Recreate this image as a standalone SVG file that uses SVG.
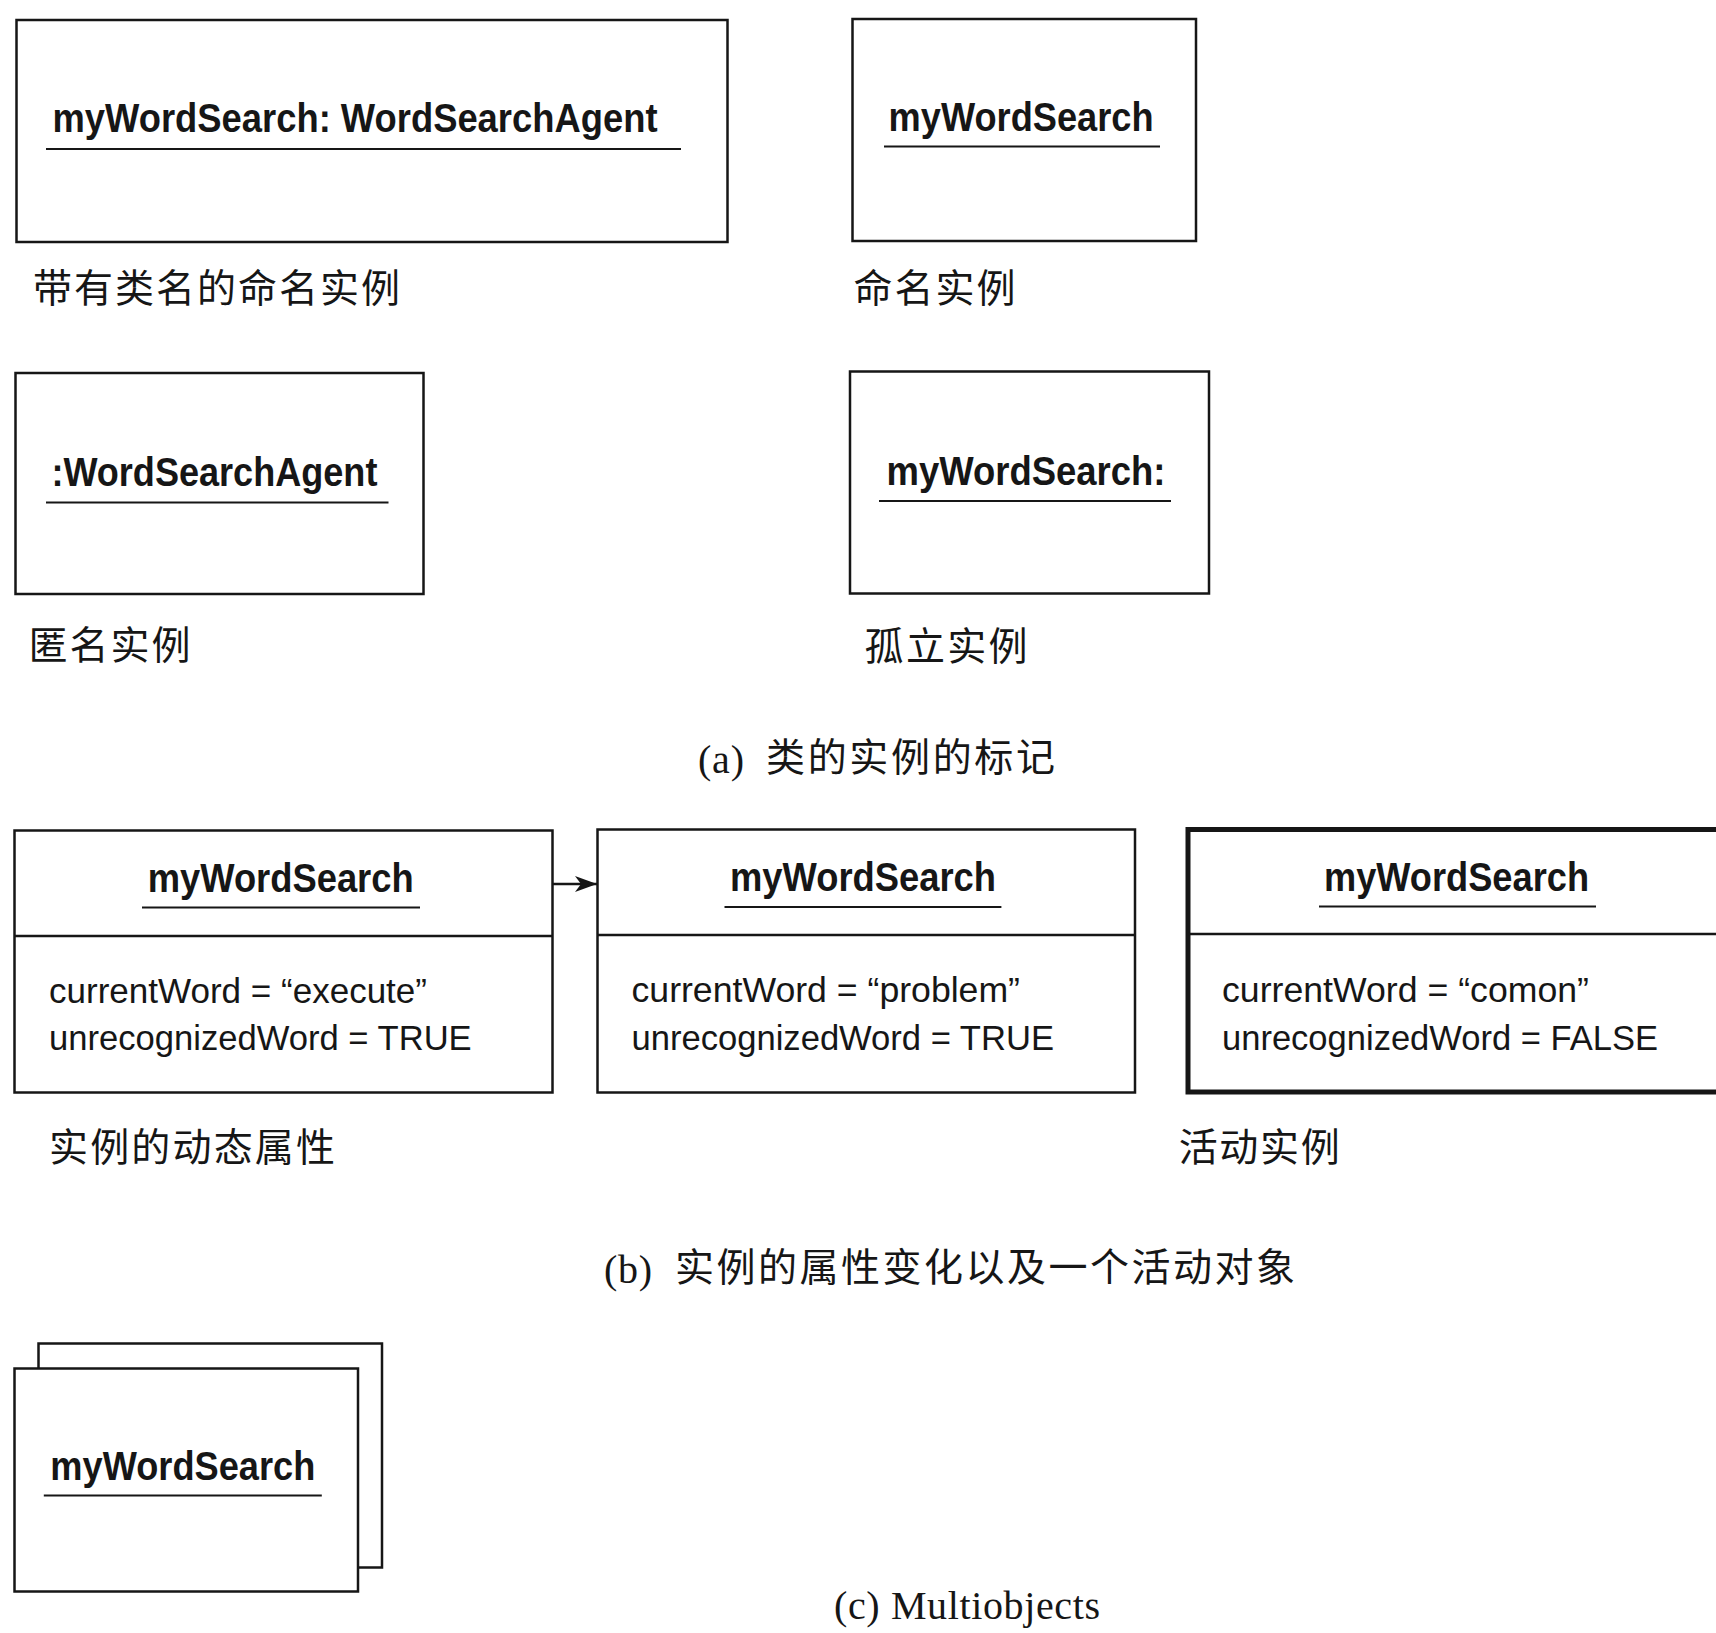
<svg xmlns="http://www.w3.org/2000/svg" width="1716" height="1633" viewBox="0 0 1716 1633">
  <style>
    .box { fill: #fff; stroke: #161616; stroke-width: 2.5; }
    .active { stroke-width: 5; }
    .sep { stroke: #161616; stroke-width: 2.5; }
    .ul { stroke: #161616; stroke-width: 2; }
    .name { font-family: "Liberation Sans Narrow", "Liberation Sans", Arial, sans-serif; font-weight: bold; font-size: 41px; fill: #161616; }
    .attr { font-family: "Liberation Sans Narrow", "Liberation Sans", Arial, sans-serif; font-size: 35px; fill: #161616; }
    .note { font-family: "Noto Sans CJK SC", sans-serif; font-size: 39px; fill: #161616; }
    .cap { font-family: "Liberation Serif", "Noto Sans CJK SC", serif; font-size: 40px; fill: #161616; }
    .link { stroke: #161616; stroke-width: 2.5; fill: none; }
  </style>
  <defs>
    <marker id="arrow" viewBox="0 0 22 16" refX="22" refY="8" markerWidth="22" markerHeight="16" markerUnits="userSpaceOnUse" orient="auto">
      <path d="M22,8 L0,0 L6,8 L0,16 Z" fill="#161616"/>
    </marker>
  </defs>
  <rect width="1716" height="1633" fill="#fff"/>

  <!-- (a) instance notations -->
  <g id="named-with-class">
    <rect class="box" x="16.5" y="20" width="711" height="222"/>
    <text class="name" x="52.5" y="132" textLength="605" lengthAdjust="spacingAndGlyphs">myWordSearch: WordSearchAgent</text>
    <line class="ul" x1="46" y1="149" x2="681" y2="149"/>
    <text class="note" x="33" y="302" textLength="367">带有类名的命名实例</text>
  </g>
  <g id="named">
    <rect class="box" x="852.5" y="19" width="343.5" height="222"/>
    <text class="name" x="888.6" y="131" textLength="265" lengthAdjust="spacingAndGlyphs">myWordSearch</text>
    <line class="ul" x1="884" y1="146.5" x2="1160" y2="146.5"/>
    <text class="note" x="853.6" y="302" textLength="162">命名实例</text>
  </g>
  <g id="anonymous">
    <rect class="box" x="15.5" y="373" width="408" height="221"/>
    <text class="name" x="51.4" y="486" textLength="326" lengthAdjust="spacingAndGlyphs">:WordSearchAgent</text>
    <line class="ul" x1="46" y1="502.5" x2="388.5" y2="502.5"/>
    <text class="note" x="28.5" y="659" textLength="162">匿名实例</text>
  </g>
  <g id="orphan">
    <rect class="box" x="850" y="371.5" width="359" height="222"/>
    <text class="name" x="886.5" y="485" textLength="279" lengthAdjust="spacingAndGlyphs">myWordSearch:</text>
    <line class="ul" x1="879" y1="501" x2="1171" y2="501"/>
    <text class="note" x="864.6" y="659.5" textLength="163">孤立实例</text>
  </g>
  <g id="caption-a">
    <text class="cap" x="698" y="773" textLength="46">(a)</text>
    <text class="note" x="766" y="771" textLength="289">类的实例的标记</text>
  </g>

  <!-- (b) attribute change and active object -->
  <g id="state-1">
    <rect class="box" x="14.5" y="830.5" width="538" height="262"/>
    <line class="sep" x1="14.5" y1="936" x2="552.5" y2="936"/>
    <text class="name" x="147.7" y="892" textLength="266" lengthAdjust="spacingAndGlyphs">myWordSearch</text>
    <line class="ul" x1="142" y1="907.5" x2="420" y2="907.5"/>
    <text class="attr" x="49" y="1002.5" textLength="378" lengthAdjust="spacingAndGlyphs">currentWord = “execute”</text>
    <text class="attr" x="49" y="1050" textLength="422.7" lengthAdjust="spacingAndGlyphs">unrecognizedWord = TRUE</text>
    <text class="note" x="49" y="1161" textLength="286">实例的动态属性</text>
  </g>
  <g id="state-2">
    <rect class="box" x="597.5" y="829.5" width="537.5" height="263"/>
    <line class="sep" x1="597.5" y1="935" x2="1135" y2="935"/>
    <text class="name" x="730" y="890.5" textLength="266" lengthAdjust="spacingAndGlyphs">myWordSearch</text>
    <line class="ul" x1="724.5" y1="907" x2="1001.4" y2="907"/>
    <text class="attr" x="631.5" y="1002" textLength="388.5" lengthAdjust="spacingAndGlyphs">currentWord = “problem”</text>
    <text class="attr" x="631.5" y="1049.5" textLength="422.5" lengthAdjust="spacingAndGlyphs">unrecognizedWord = TRUE</text>
  </g>
  <g id="active-instance">
    <rect class="box active" x="1188" y="829.5" width="560" height="262.5"/>
    <line class="sep" x1="1188" y1="934" x2="1716" y2="934"/>
    <text class="name" x="1324" y="890.5" textLength="265" lengthAdjust="spacingAndGlyphs">myWordSearch</text>
    <line class="ul" x1="1319" y1="906.5" x2="1596" y2="906.5"/>
    <text class="attr" x="1222" y="1002" textLength="367" lengthAdjust="spacingAndGlyphs">currentWord = “comon”</text>
    <text class="attr" x="1222" y="1049.5" textLength="436" lengthAdjust="spacingAndGlyphs">unrecognizedWord = FALSE</text>
    <text class="note" x="1178.7" y="1160.5" textLength="161">活动实例</text>
  </g>
  <g id="connectors">
    <line class="link" x1="553" y1="884" x2="597" y2="884" marker-end="url(#arrow)"/>
  </g>
  <g id="caption-b">
    <text class="cap" x="604" y="1283" textLength="48">(b)</text>
    <text class="note" x="675" y="1281" textLength="620">实例的属性变化以及一个活动对象</text>
  </g>

  <!-- (c) multiobject -->
  <g id="multiobject">
    <rect class="box" x="38.5" y="1343.5" width="343.5" height="224"/>
    <rect class="box" x="14.5" y="1368.5" width="343.5" height="223"/>
    <text class="name" x="50.3" y="1480" textLength="265" lengthAdjust="spacingAndGlyphs">myWordSearch</text>
    <line class="ul" x1="43.8" y1="1495.5" x2="321.8" y2="1495.5"/>
  </g>
  <g id="caption-c">
    <text class="cap" x="834" y="1619" textLength="266">(c) Multiobjects</text>
  </g>
</svg>
